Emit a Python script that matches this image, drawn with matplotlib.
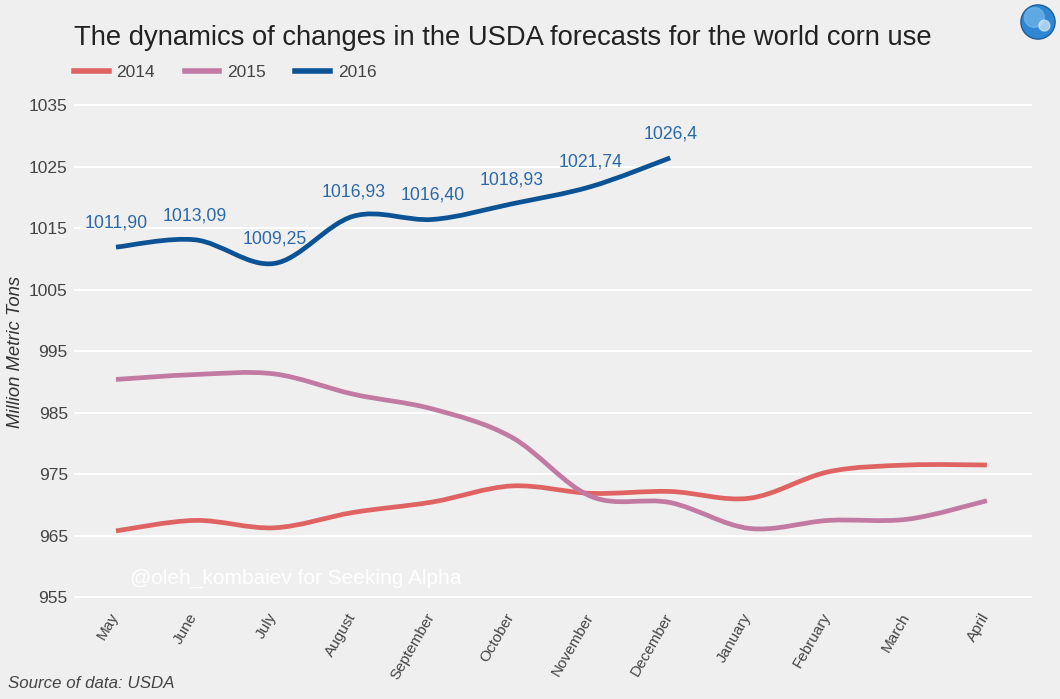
import matplotlib.pyplot as plt
from matplotlib.path import Path
from matplotlib.patches import PathPatch, Circle
from matplotlib.lines import Line2D
from matplotlib.transforms import ScaledTranslation

plt.rcParams['font.family'] = ['Liberation Sans', 'DejaVu Sans']

months = ['May', 'June', 'July', 'August', 'September', 'October', 'November',
          'December', 'January', 'February', 'March', 'April']
use_2014 = [965.8, 967.5, 966.3, 968.8, 970.5, 973.1, 971.9, 972.2, 971.1, 975.4, 976.5, 976.5]
use_2015 = [990.4, 991.2, 991.3, 988.0, 985.6, 981.0, 971.4, 970.4, 966.2, 967.5, 967.7, 970.7]
use_2016 = [1011.90, 1013.09, 1009.25, 1016.93, 1016.40, 1018.93, 1021.74, 1026.4]
labels_2016 = ['1011,90', '1013,09', '1009,25', '1016,93', '1016,40', '1018,93', '1021,74', '1026,4']

bg = '#efefef'
c14, c15, c16 = '#e06363', '#c27aa2', '#0b5394'


def smooth_path(xs, ys):
    # catmull-rom segments drawn as cubic bezier curves
    pts = list(zip(xs, ys))
    n = len(pts)
    verts = [pts[0]]
    codes = [Path.MOVETO]
    for i in range(n - 1):
        p0 = pts[i - 1] if i > 0 else pts[i]
        p1 = pts[i]
        p2 = pts[i + 1]
        p3 = pts[i + 2] if i + 2 < n else pts[i + 1]
        c1 = (p1[0] + (p2[0] - p0[0]) / 6, p1[1] + (p2[1] - p0[1]) / 6)
        c2 = (p2[0] - (p3[0] - p1[0]) / 6, p2[1] - (p3[1] - p1[1]) / 6)
        verts += [c1, c2, p2]
        codes += [Path.CURVE4] * 3
    return Path(verts, codes)


fig = plt.figure(figsize=(10.6, 6.99), dpi=100, facecolor=bg)
W, H = 1060, 699
ax = fig.add_axes([74 / W, 1 - 603.5 / H, (1032 - 74) / W, (603.5 - 98.8) / H])
ax.set_facecolor(bg)

x = list(range(len(months)))
for vals, col in [(use_2014, c14), (use_2015, c15), (use_2016, c16)]:
    p = smooth_path(x[:len(vals)], vals)
    ax.add_patch(PathPatch(p, fill=False, edgecolor=col, lw=3.4, capstyle='butt', zorder=3))

for i, (v, t) in enumerate(zip(use_2016, labels_2016)):
    ax.annotate(t, (i, v), xytext=(0, 17.5), textcoords='offset points',
                ha='center', va='center', fontsize=12.7, color='#2b68a8', zorder=4)

ax.set_xlim(-0.53, 11.57)
ax.set_ylim(954, 1036)
ax.set_yticks(range(955, 1036, 10))
ax.grid(axis='y', color='white', lw=1.5)
ax.set_axisbelow(True)
for s in ax.spines.values():
    s.set_visible(False)
ax.tick_params(axis='y', length=0, pad=4.5, labelsize=12.5, labelcolor='#444444')
ax.set_xticks(x)
ax.set_xticklabels(months, rotation=60, ha='right', fontsize=11, color='#444444')
ax.tick_params(axis='x', length=0, pad=5)
shift = ScaledTranslation(0.05, 0, fig.dpi_scale_trans)
for lab in ax.get_xticklabels():
    lab.set_transform(lab.get_transform() + shift)

ax.text(0.058, 0.05, '@oleh_kombaiev for Seeking Alpha',
        transform=ax.transAxes, color='white', fontsize=15, va='center')

fig.text(74 / W, 1 - 38 / H, 'The dynamics of changes in the USDA forecasts for the world corn use',
         fontsize=19.75, color='#222222', va='center')

handles = [Line2D([], [], color=c, lw=4) for c in (c14, c15, c16)]
fig.legend(handles, ['2014', '2015', '2016'], loc='center left',
           bbox_to_anchor=(74 / W, 1 - 72 / H), ncol=3, frameon=False,
           fontsize=12.5, handlelength=2.0, handletextpad=0.45, columnspacing=1.7,
           borderpad=0, borderaxespad=0, labelcolor='#444444')

fig.text(16 / W, 1 - 352 / H, 'Million Metric Tons', rotation=90, style='italic',
         fontsize=13.3, color='#333333', ha='center', va='center')
fig.text(8 / W, 1 - 684 / H, 'Source of data: USDA', style='italic',
         fontsize=12.2, color='#444444', va='center')

# small globe icon in the corner
gax = fig.add_axes([1020 / W, 1 - 40 / H, 36 / W, 36 / H])
gax.set_xlim(-1, 1)
gax.set_ylim(-1, 1)
gax.set_aspect('equal')
gax.axis('off')
gax.add_patch(Circle((0, 0), 0.95, color='#2f86d2', ec='#1c5f9e', lw=1))
gax.add_patch(Circle((-0.2, 0.25), 0.55, color='#7fbff0', alpha=0.6))
gax.add_patch(Circle((0.35, -0.2), 0.3, color='#d8ecfa', alpha=0.7))

fig.savefig('out.png', dpi=100, facecolor=bg)
